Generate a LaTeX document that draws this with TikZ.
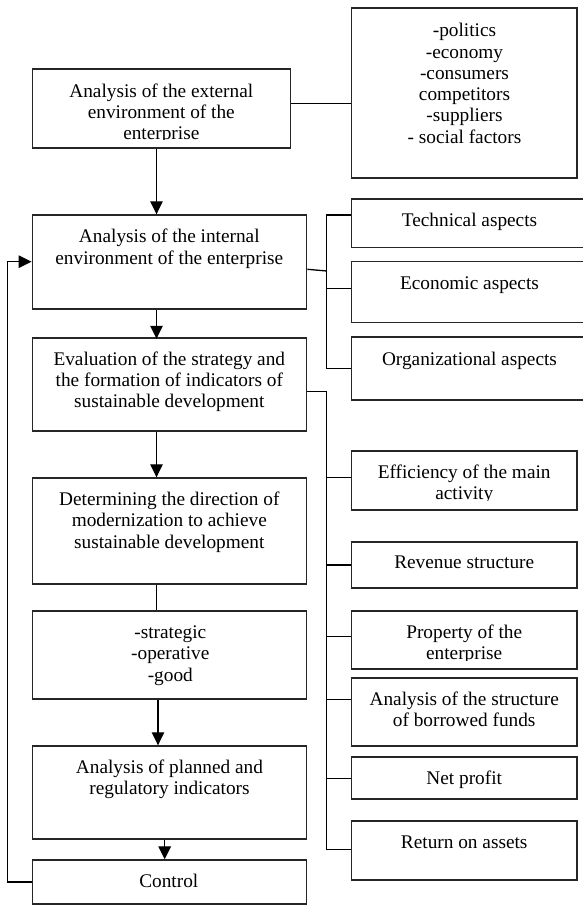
\documentclass[tikz,border=0pt]{standalone}
\usepackage{fontspec}
\setmainfont{Liberation Serif}
\usetikzlibrary{arrows.meta}
\newcommand\fsz{\fontsize{19.3}{21.3}\selectfont}
\begin{document}
\begin{tikzpicture}[x=1pt,y=-1pt,
  bx/.style={draw=black!85, line width=1.4pt, inner sep=0pt, rectangle},
  tx/.style={anchor=north, align=center, inner sep=0pt, font=\fsz},
  ln/.style={draw=black, line width=1.3pt},
  arr/.style={ln, -{Triangle[length=13pt,width=12.5pt]}}]
\useasboundingbox (0,0) rectangle (583,905);
\clip (0,0) rectangle (583,905);

% left column boxes
\node[bx, minimum width=258pt, minimum height=79pt] (ext) at (161.3,108.5) {};
\node[bx, minimum width=274.4pt, minimum height=94pt] (int) at (169.5,262) {};
\node[bx, minimum width=274.4pt, minimum height=93pt] (eval) at (169.5,384.5) {};
\node[bx, minimum width=274.4pt, minimum height=106pt] (det) at (169.5,531) {};
\node[bx, minimum width=274.4pt, minimum height=88pt] (strat) at (169.5,655) {};
\node[bx, minimum width=274.4pt, minimum height=93pt] (plan) at (169.5,792.5) {};
\node[bx, minimum width=274.4pt, minimum height=44pt] (ctrl) at (169.5,882) {};

% right column boxes
\node[bx, minimum width=225.7pt, minimum height=170pt] (list) at (464.15,93) {};
\node[bx, minimum width=236.7pt, minimum height=48.5pt] (tech) at (469.65,223.25) {};
\node[bx, minimum width=236.7pt, minimum height=61pt] (econ) at (469.65,292) {};
\node[bx, minimum width=236.7pt, minimum height=63pt] (org) at (469.65,368.5) {};
\node[bx, minimum width=225.7pt, minimum height=59pt] (eff) at (464.15,480.5) {};
\node[bx, minimum width=225.7pt, minimum height=46pt] (rev) at (464.15,565) {};
\node[bx, minimum width=225.7pt, minimum height=58pt] (prop) at (464.15,640) {};
\node[bx, minimum width=225.7pt, minimum height=68pt] (struct) at (464.15,712) {};
\node[bx, minimum width=225.7pt, minimum height=42pt] (net) at (464.15,778) {};
\node[bx, minimum width=225.7pt, minimum height=59pt] (ret) at (464.15,850.5) {};

% texts (top of node = first baseline - 14.91)
\begin{scope}
  \clip (32,69) rectangle (290,139.5);
  \node[tx] (extT) at (161.3,82.1) {\strut Analysis of the external\\environment of the\\enterprise};
\end{scope}
\node[tx] (intT) at (169.3,227.8) {\strut Analysis of the internal\\environment of the enterprise};
\node[tx] (evalT) at (169.3,350.1) {\strut Evaluation of the strategy and\\the formation of indicators of\\sustainable development};
\node[tx] (detT) at (169.3,490.4) {\strut Determining the direction of\\modernization to achieve\\sustainable development};
\node[tx] (stratT) at (170.3,623.4) {\strut -strategic\\-operative\\-good};
\node[tx] (planT) at (169.5,758.4) {\strut Analysis of planned and\\regulatory indicators};
\node[tx] (ctrlT) at (168.8,872.8) {\strut Control};

\node[tx] (listT) at (464.5,21.6) {\strut -politics\\-economy\\-consumers\\competitors\\-suppliers\\- social factors};
\node[tx] (techT) at (469.5,211.1) {\strut Technical aspects};
\node[tx] (econT) at (469.5,274.4) {\strut Economic aspects};
\node[tx] (orgT) at (469.5,350.1) {\strut Organizational aspects};
\begin{scope}
  \clip (351,451) rectangle (577,500.5);
  \node[tx] (effT) at (464.2,463.4) {\strut Efficiency of the main\\activity};
\end{scope}
\node[tx] (revT) at (464.2,553.8) {\strut Revenue structure};
\begin{scope}
  \clip (351,611) rectangle (577,660.5);
  \node[tx] (propT) at (464.2,623.4) {\strut Property of the\\enterprise};
\end{scope}
\node[tx] (structT) at (464.2,690.4) {\strut Analysis of the structure\\of borrowed funds};
\node[tx] (netT) at (464.2,769.4) {\strut Net profit};
\node[tx] (retT) at (464.2,833.4) {\strut Return on assets};

% vertical flow
\coordinate (xa) at (156.5,0);
\coordinate (xb) at (158,0);
\coordinate (xc) at (164.7,0);
\draw[arr] (ext.south -| xa) -- (int.north -| xa);
\draw[arr] (int.south -| xa) -- ([yshift=-1.5pt]eval.north -| xa);
\draw[arr] (eval.south -| xa) -- (det.north -| xa);
\draw[ln] (det.south -| xa) -- (strat.north -| xa);
\draw[arr] (strat.south -| xb) -- (plan.north -| xb);
\draw[arr] (plan.south -| xc) -- (ctrl.north -| xc);

% external -> list
\coordinate (e1) at (0,103.3);
\draw[ln] (ext.east |- e1) -- (list.west |- e1);

% internal bracket
\coordinate (bt) at (326.8,215);
\coordinate (bm) at (326.8,288.3);
\coordinate (bb) at (326.8,368.3);
\coordinate (bi) at (326.8,271);
\coordinate (i1) at (0,269.3);
\draw[ln] (int.east |- i1) -- (bi);
\draw[ln] (tech.west |- bt) -- (bt) -- (bb) -- (org.west |- bb);
\draw[ln] (bm) -- (econ.west |- bm);

% evaluation bracket
\coordinate (ct) at (326.8,391.7);
\coordinate (c1) at (326.8,477.3);
\coordinate (c2) at (326.8,565);
\coordinate (c3) at (326.8,636.7);
\coordinate (c4) at (326.8,699.3);
\coordinate (c5) at (326.8,778.3);
\coordinate (c6) at (326.8,849.3);
\draw[ln] (eval.east |- ct) -- (ct) -- (c6) -- (ret.west |- c6);
\draw[ln] (c1) -- (eff.west |- c1);
\draw[ln] (c2) -- (rev.west |- c2);
\draw[ln] (c3) -- (prop.west |- c3);
\draw[ln] (c4) -- (struct.west |- c4);
\draw[ln] (c5) -- (net.west |- c5);

% feedback
\coordinate (fbL) at (7.4,882);
\coordinate (fbT) at (7.4,261.7);
\draw[arr] (ctrl.west) -- (fbL) -- (fbT) -- (fbT -| int.west);
\end{tikzpicture}
\end{document}
